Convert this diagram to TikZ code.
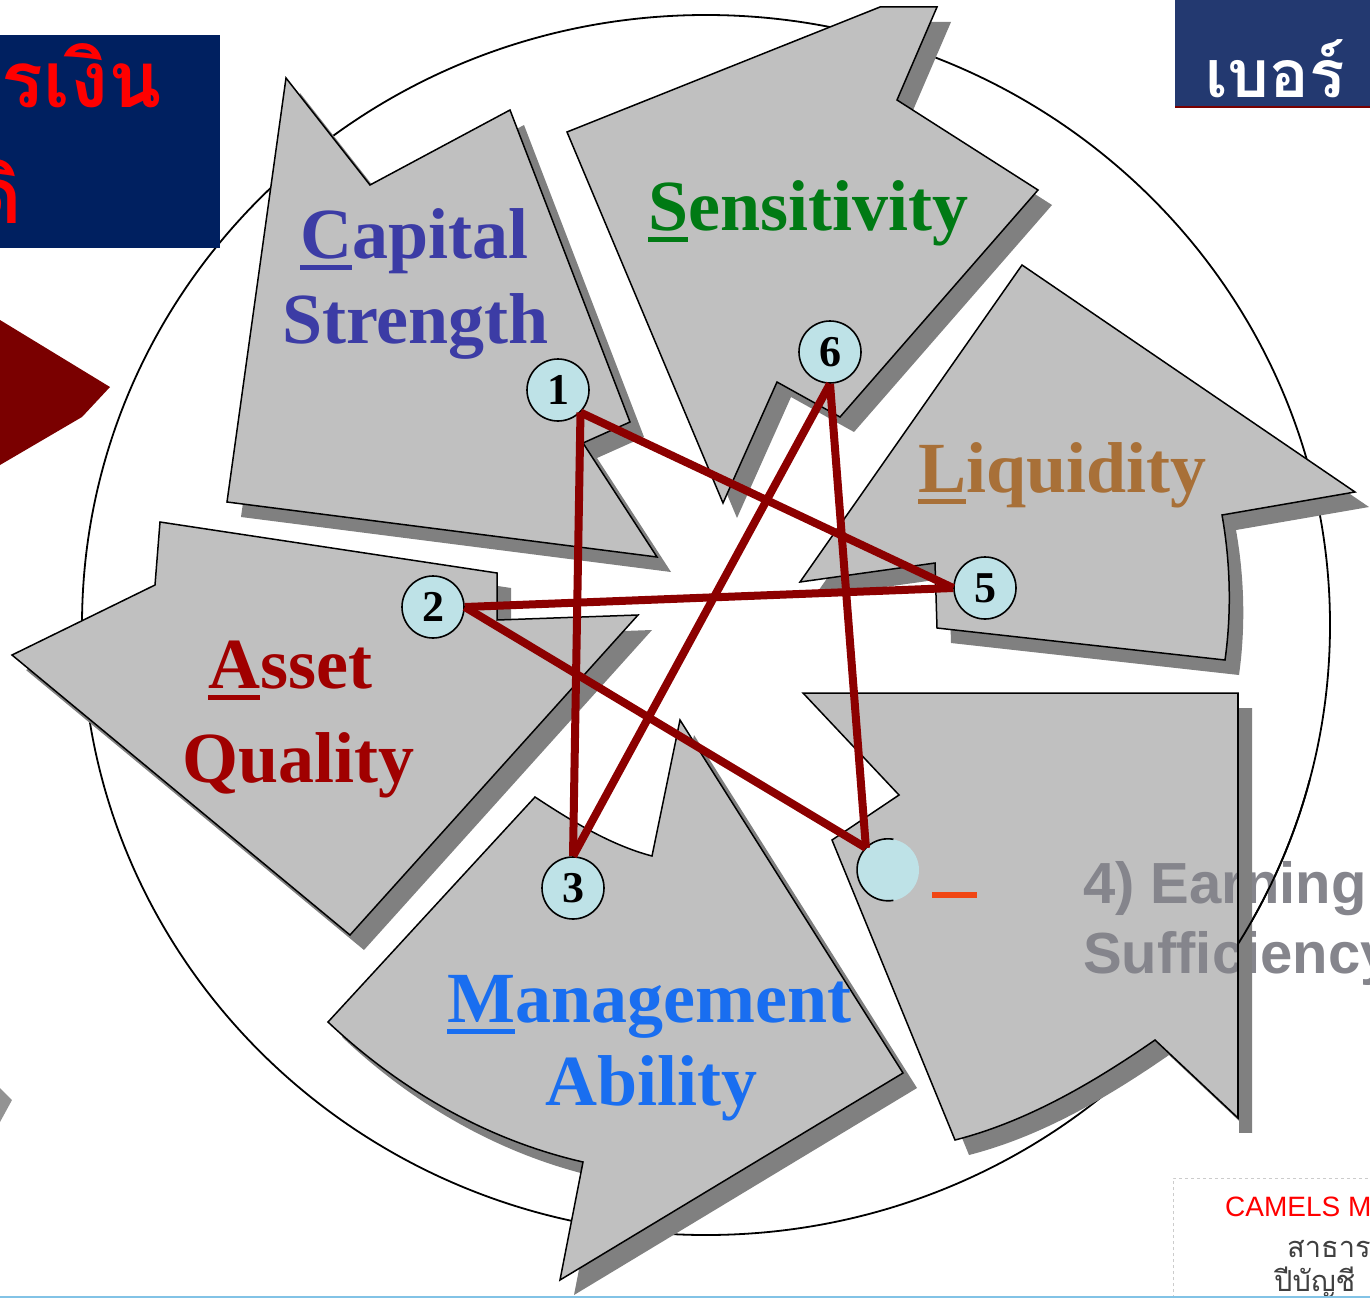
\documentclass[tikz,border=0pt]{standalone}
\usepackage{fontspec}
\setmainfont{Liberation Serif}
\setsansfont{Liberation Sans}
\newfontfamily\thaifont[Script=Thai]{Loma}
\usetikzlibrary{positioning}

\definecolor{arrowfill}{RGB}{192,192,192}
\definecolor{arrowshade}{RGB}{128,128,128}
\definecolor{numfill}{RGB}{190,226,231}
\definecolor{starred}{RGB}{140,0,0}
\definecolor{capblue}{RGB}{60,60,165}
\definecolor{sensgreen}{RGB}{0,122,20}
\definecolor{liqbrown}{RGB}{168,112,56}
\definecolor{assetred}{RGB}{160,0,0}
\definecolor{mgmtblue}{RGB}{25,110,240}
\definecolor{earngray}{RGB}{133,133,140}
\definecolor{navyleft}{RGB}{0,32,96}
\definecolor{navyright}{RGB}{35,57,112}
\definecolor{pentred}{RGB}{122,0,0}
\definecolor{dashred}{RGB}{240,70,20}
\definecolor{bottomblue}{RGB}{130,195,230}

\newcommand\firstul[1]{\setbox0\hbox{#1}\rlap{\rule[-0.17em]{\wd0}{0.075em}}#1}

\newcommand\capitalpath{(286,78) -- (370,185) -- (510,110) -- (630,422) -- (583,443) -- (657,557) -- (227,502) -- cycle}
\newcommand\senspath{(567,132) -- (880,7) -- (937,7) -- (897,100) -- (1038,190) -- (840,417) -- (777,382) -- (723,503) -- cycle}
\newcommand\liqpath{(1022,265) -- (1355,492) -- (1222,515) .. controls (1230,560) and (1232,610) .. (1225,660) -- (937,628) -- (935,563) -- (800,582) -- cycle}
\newcommand\earnpath{(803,693) -- (1238,693) -- (1238,1118) -- (1155,1040) .. controls (1090,1085) and (1025,1122) .. (955,1140) -- (832,840) -- (899,795) -- cycle}
\newcommand\mgmtpath{(535,797) .. controls (570,820) and (610,845) .. (652,856) -- (680,720) -- (903,1073) -- (560,1280) -- (583,1162) .. controls (487,1140) and (400,1090) .. (328,1022) -- cycle}
\newcommand\assetpath{(160,522) -- (497,573) -- (497,620) -- (638,615) -- (350,935) -- (12,655) -- (155,585) -- cycle}

\begin{document}
\begin{tikzpicture}[x=1pt,y=-1pt,
  arrow body/.style={fill=arrowfill,draw=black,line width=1.5pt,line join=miter},
  arrow shade/.style={fill=arrowshade,xshift=14pt,yshift=-15pt},
  main node/.style={circle,fill=numfill,draw=black,line width=1.6pt,minimum size=62pt,inner sep=0pt,font=\fontsize{44}{44}\selectfont\bfseries},
  star line/.style={draw=starred,line width=8pt},
  label text/.style={anchor=base west,inner sep=0pt,font=\fontsize{72}{80}\selectfont\bfseries},
  earn text/.style={anchor=base west,inner sep=0pt,text=earngray,font=\sffamily\bfseries\fontsize{58}{60}\selectfont},
  thai text/.style={anchor=base west,inner sep=0pt,font=\thaifont\fontsize{29}{31}\selectfont}]

  \fill[white] (0,0) rectangle (1370,1298);
  \useasboundingbox (0,0) rectangle (1370,1298);

  % ring behind the arrows
  \draw[line width=1.8pt] (706,625) ellipse [x radius=624pt, y radius=610pt];

  % side pieces of the slide
  \fill[navyleft] (0,35) rectangle (220,248);
  \fill[pentred] (0,320) -- (110,387) -- (82,417) -- (0,465) -- cycle;
  \fill[arrowshade!85] (0,1088) -- (12,1100) -- (0,1122) -- cycle;
  \fill[navyright] (1175,0) rectangle (1370,106);
  \draw[pentred,line width=2pt] (1175,107) -- (1370,107);

  % the six arrows
  \foreach \p in {\capitalpath,\senspath,\liqpath,\earnpath,\mgmtpath,\assetpath}
    \fill[arrow shade] \p;
  \foreach \p in {\capitalpath,\senspath,\liqpath,\earnpath,\mgmtpath,\assetpath}
    \draw[arrow body] \p;

  \node[label text,text=capblue] (capital) at (300,258) {\firstul{C}apital};
  \node[label text,text=capblue] (strength) at (282,343) {Strength};
  \node[label text,text=sensgreen] (sens) at (648,230) {\firstul{S}ensitivity};
  \node[label text,text=liqbrown] (liq) at (918,492) {\firstul{L}iquidity};
  \node[label text,text=assetred] (asset) at (208,688) {\firstul{A}sset};
  \node[label text,text=assetred] (quality) at (182,782) {Quality};
  \node[label text,text=mgmtblue] (mgmt) at (447,1022) {\firstul{M}anagement};
  \node[label text,text=mgmtblue] (ability) at (545,1105) {Ability};

  % earning label, partly hidden by the arrow edge
  \node[earn text] (earn) at (1083,903) {4) Earning};
  \node[earn text] (suff) at (1083,973) {Sufficiency};
  \fill[arrowshade] (1239,708) rectangle (1252,1133);
  \draw[line width=1.5pt] (1238,693) -- (1238,1118);
  \begin{scope}
    \clip (1239,780) rectangle (1370,1000);
    \draw[line width=1.8pt] (706,625) ellipse [x radius=624pt, y radius=610pt];
  \end{scope}
  \draw[dashred,line width=6pt] (932,895) -- (977,895);

  \node[main node] (1) at (558,390) {1};
  \node[main node] (2) at (433,607) {2};
  \node[main node] (3) at (573,888) {3};
  \node[main node] (5) at (985,588) {5};
  \node[main node] (6) at (830,352) {6};
  \node[circle,fill=numfill,minimum size=62pt,inner sep=0pt] (4) at (888,870) {};
  \draw[line width=1.6pt] (4.80) arc[start angle=80,end angle=280,radius=31pt];

  \path[star line]
    (1.south east) edge (3.north)
    (1.south east) edge (5.west)
    (2.east) edge (5.west)
    (2.east) edge (4.north west)
    (3.north) edge (6.south)
    (6.south) edge (4.north west);

  % slide texts
  \node[anchor=base east,inner sep=0pt,text=red,font=\thaifont\bfseries\fontsize{78}{80}\selectfont] (thaitop) at (162,107) {รเงิน};
  \node[anchor=base east,inner sep=0pt,text=red,font=\thaifont\bfseries\fontsize{78}{80}\selectfont] (thaibot) at (22,223) {ดิ};
  \node[anchor=base west,inner sep=0pt,text=white,font=\thaifont\bfseries\fontsize{66}{70}\selectfont] (ber) at (1205,97) {เบอร์};

  \draw[black!20,dashed,line width=1pt] (1173,1298) -- (1173,1178) -- (1370,1178);
  \node[anchor=base west,inner sep=0pt,text=red,font=\sffamily\fontsize{28}{30}\selectfont] (camels) at (1225,1216) {CAMELS M};
  \node[thai text,text=black!75] (thai1) at (1287,1257) {สาธาร};
  \node[thai text,text=black!75] (thai2) at (1274,1291) {ปีบัญชี};
  \draw[bottomblue,line width=2.5pt] (0,1297) -- (1370,1297);
\end{tikzpicture}
\end{document}
